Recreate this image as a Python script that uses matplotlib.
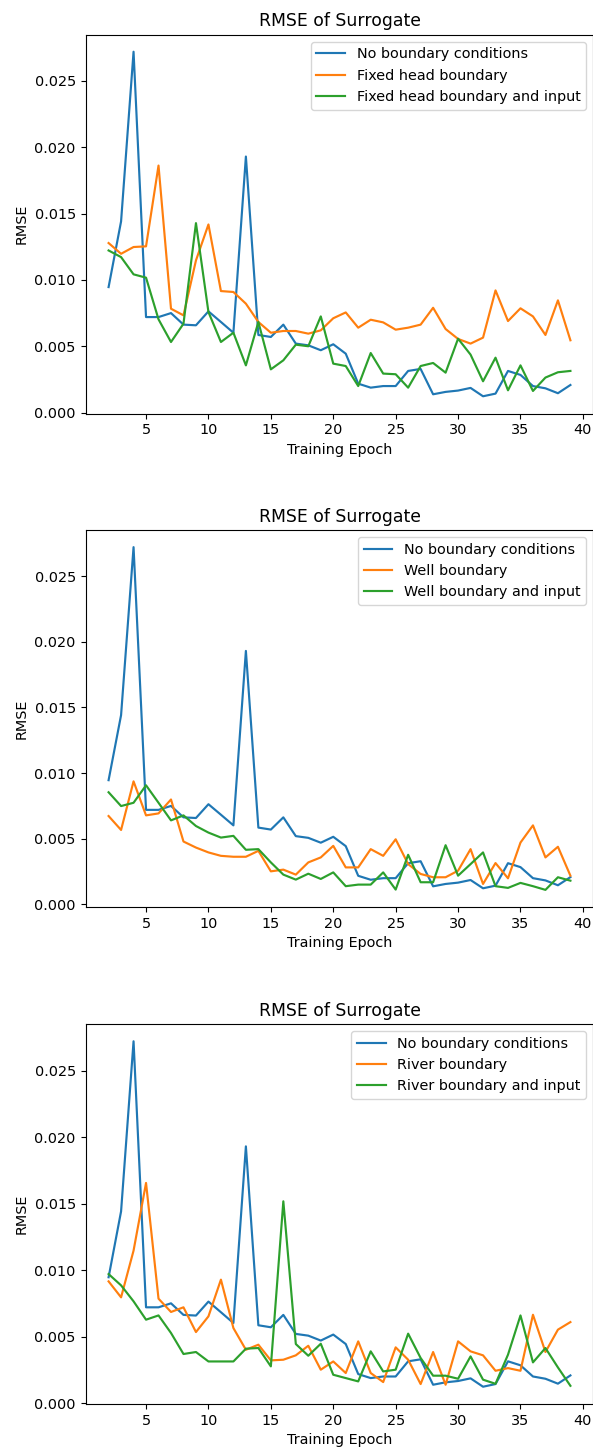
import matplotlib
matplotlib.use("Agg")
import matplotlib.pyplot as plt

epochs = list(range(2, 40))

no_boundary = [0.00946, 0.01441, 0.0272, 0.0072, 0.0072, 0.0075, 0.00663, 0.00658, 0.00763, 0.00683,
               0.00602, 0.0193, 0.00585, 0.0057, 0.00663, 0.0052, 0.00507, 0.0047, 0.00515, 0.00444,
               0.00218, 0.00188, 0.0020, 0.0020, 0.00314, 0.00329, 0.00138, 0.00156, 0.00166, 0.00186,
               0.00123, 0.00143, 0.00314, 0.00284, 0.0020, 0.00183, 0.00146, 0.00208]

fixed_head = [0.01278, 0.01197, 0.01248, 0.01253, 0.01862, 0.00783, 0.00733, 0.01147, 0.01418, 0.00916,
              0.00909, 0.00821, 0.00683, 0.00602, 0.00615, 0.00615, 0.00595, 0.0062, 0.00711, 0.00755,
              0.0064, 0.0070, 0.0068, 0.00625, 0.0064, 0.00663, 0.0079, 0.0063, 0.00555, 0.0052,
              0.00565, 0.00921, 0.0069, 0.00786, 0.00725, 0.00585, 0.00846, 0.00545]

fixed_head_input = [0.01222, 0.01172, 0.01042, 0.01017, 0.00703, 0.00532, 0.0067, 0.01428, 0.00758, 0.00532,
                    0.00602, 0.00356, 0.00683, 0.00326, 0.00394, 0.00512, 0.0050, 0.00725, 0.00369, 0.00351,
                    0.0020, 0.00449, 0.00294, 0.00289, 0.00188, 0.00351, 0.00374, 0.00301, 0.00557, 0.00437,
                    0.00236, 0.00414, 0.00168, 0.00356, 0.00163, 0.00264, 0.00304, 0.00314]

well = [0.00673, 0.00567, 0.00937, 0.00678, 0.00693, 0.00799, 0.00479, 0.00433, 0.00396, 0.0037,
        0.00363, 0.00363, 0.00408, 0.00252, 0.00265, 0.00227, 0.0032, 0.00358, 0.00446, 0.00282,
        0.00282, 0.00421, 0.0037, 0.00496, 0.00307, 0.00232, 0.00207, 0.00207, 0.00257, 0.00421,
        0.00156, 0.00315, 0.00199, 0.00471, 0.00602, 0.00358, 0.00439, 0.00219]

well_input = [0.00854, 0.00749, 0.00774, 0.00907, 0.00774, 0.0064, 0.00678, 0.00597, 0.00547, 0.00509,
              0.00522, 0.00416, 0.00421, 0.0032, 0.00227, 0.00189, 0.00234, 0.00194, 0.00244, 0.00139,
              0.00151, 0.00151, 0.00244, 0.00113, 0.00378, 0.00169, 0.00169, 0.00451, 0.00219, 0.00307,
              0.00396, 0.00139, 0.00126, 0.00164, 0.00139, 0.00111, 0.00207, 0.00181]

river = [0.00915, 0.00795, 0.01146, 0.01655, 0.00785, 0.00685, 0.0072, 0.00534, 0.00652, 0.00928,
         0.00564, 0.00401, 0.00439, 0.00321, 0.00326, 0.00359, 0.00431, 0.00251, 0.00313, 0.00226,
         0.00464, 0.00226, 0.00158, 0.00419, 0.00326, 0.00143, 0.00384, 0.00138, 0.00464, 0.00389,
         0.00359, 0.00243, 0.00263, 0.00243, 0.00664, 0.00384, 0.00552, 0.00609]

river_input = [0.0097, 0.00885, 0.00765, 0.00627, 0.00659, 0.00527, 0.00369, 0.00384, 0.00313, 0.00313,
               0.00313, 0.00409, 0.00414, 0.00276, 0.01517, 0.00444, 0.00356, 0.00446, 0.00213, 0.00188,
               0.00163, 0.00389, 0.00238, 0.00251, 0.00522, 0.00339, 0.00206, 0.00206, 0.00183, 0.00351,
               0.00176, 0.00145, 0.00364, 0.00659, 0.00306, 0.00414, 0.00268, 0.0013]

panels = [
    (["No boundary conditions", "Fixed head boundary", "Fixed head boundary and input"],
     [no_boundary, fixed_head, fixed_head_input]),
    (["No boundary conditions", "Well boundary", "Well boundary and input"],
     [no_boundary, well, well_input]),
    (["No boundary conditions", "River boundary", "River boundary and input"],
     [no_boundary, river, river_input]),
]

W, H = 593, 1447
fig = plt.figure(figsize=(W / 100, H / 100), dpi=100)

s = 1.035
# (top_px, bottom_px) of each axes
boxes = [(34.5, 413.5), (530, 907), (1024, 1404)]
left_px, right_px = 85.5, 593.5
colors = ["#1f77b4", "#ff7f0e", "#2ca02c"]

for (labels, series), (top, bot) in zip(panels, boxes):
    ax = fig.add_axes([left_px / W, (H - bot) / H, (right_px - left_px) / W, (bot - top) / H])
    for lab, vals, c in zip(labels, series, colors):
        ax.plot(epochs, vals, color=c, lw=1.5 * s, label=lab)
    ax.set_title("RMSE of Surrogate", fontsize=12 * s)
    ax.set_xlabel("Training Epoch", fontsize=10 * s)
    ax.set_ylabel("RMSE", fontsize=10 * s)
    ax.set_xticks([5, 10, 15, 20, 25, 30, 35, 40])
    ax.set_yticks([0.0, 0.005, 0.01, 0.015, 0.02, 0.025])
    ax.tick_params(labelsize=10 * s)
    ax.yaxis.set_major_formatter(matplotlib.ticker.FormatStrFormatter("%.3f"))
    ax.legend(loc="upper right", fontsize=10 * s)

fig.savefig("out.png", dpi=100)
